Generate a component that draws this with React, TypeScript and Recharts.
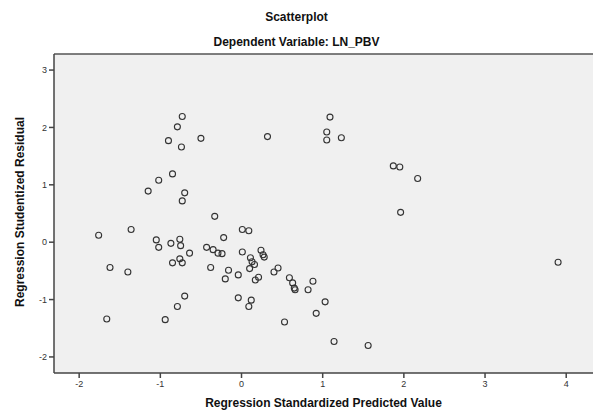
import React from "react";
import {
  ScatterChart, Scatter, XAxis, YAxis, ReferenceArea, ReferenceLine
} from "recharts";

// Regression Standardized Predicted Value
const predicted = [
  -0.73, -0.79, -0.90, -0.74, -0.50, 0.32, -0.85, -1.02, -1.15, -0.70,
  -0.73, -0.33, 1.09, 1.05, 1.05, 1.23, 1.87, 1.95, 2.17, 1.96,
  -1.76, -1.36, -1.62, -1.40, -1.66, -1.05, -1.02, -0.87, -0.76, -0.75,
  -0.64, -0.85, -0.76, -0.73, -0.70, -0.79, -0.94, -0.22, 0.01, 0.09,
  -0.43, -0.35, -0.29, -0.24, -0.38, -0.16, -0.20, -0.04, 0.01, 0.11,
  0.13, 0.16, 0.10, 0.17, 0.21, 0.24, 0.265, 0.28, 0.40, 0.45,
  -0.04, 0.12, 0.09, 0.53, 0.59, 0.63, 0.65, 0.66, 3.90, 0.88,
  0.82, 1.03, 0.92, 1.14, 1.56,
];

// Regression Studentized Residual
const residual = [
  2.19, 2.01, 1.77, 1.66, 1.81, 1.84, 1.19, 1.08, 0.89, 0.86,
  0.72, 0.45, 2.18, 1.92, 1.78, 1.82, 1.33, 1.31, 1.11, 0.52,
  0.12, 0.22, -0.44, -0.52, -1.34, 0.04, -0.09, -0.02, 0.05, -0.06,
  -0.19, -0.36, -0.29, -0.36, -0.94, -1.12, -1.35, 0.08, 0.22, 0.20,
  -0.09, -0.13, -0.19, -0.20, -0.44, -0.49, -0.64, -0.57, -0.17, -0.27,
  -0.34, -0.39, -0.46, -0.66, -0.61, -0.14, -0.22, -0.26, -0.52, -0.45,
  -0.97, -1.01, -1.12, -1.39, -0.62, -0.71, -0.80, -0.83, -0.35, -0.68,
  -0.83, -1.04, -1.24, -1.73, -1.80,
];

const xTicks = [-2, -1, 0, 1, 2, 3, 4];
const yTicks = [-2, -1, 0, 1, 2, 3];

const points = predicted.map((x, i) => ({ x, y: residual[i] }));

const FONT = '"Liberation Sans", Arial, sans-serif';
const X_DOMAIN: [number, number] = [-2.31, 4.33];
const Y_DOMAIN: [number, number] = [-2.28, 3.28];

const ring = (props: any) => (
  <circle cx={props.cx} cy={props.cy} r={3} fill="none" stroke="#333" strokeWidth={1.1} />
);

const title: React.CSSProperties = {
  position: "absolute", left: 0, width: 593, textAlign: "center",
  fontFamily: FONT, fontWeight: "bold", fontSize: 12, color: "#111",
};

export default function App() {
  return (
    <div style={{ position: "relative", width: 593, height: 412, background: "#fff" }}>
      <style>{"body{margin:0}"}</style>
      <ScatterChart
        width={593}
        height={412}
        margin={{ top: 54, right: 0, bottom: 0, left: 0 }}
      >
        <ReferenceArea
          x1={X_DOMAIN[0]} x2={X_DOMAIN[1]} y1={Y_DOMAIN[0]} y2={Y_DOMAIN[1]}
          fill="#f0f0f0" fillOpacity={1} stroke="none" ifOverflow="visible"
        />
        <ReferenceLine y={Y_DOMAIN[1]} stroke="#555" strokeWidth={1.5} />
        <XAxis
          type="number"
          dataKey="x"
          domain={X_DOMAIN}
          ticks={xTicks}
          allowDataOverflow
          height={39}
          tickSize={5}
          tickMargin={3}
          stroke="#444"
          strokeWidth={1.5}
          tick={{ fontSize: 9, fill: "#333", fontFamily: FONT }}
        />
        <YAxis
          type="number"
          dataKey="y"
          domain={Y_DOMAIN}
          ticks={yTicks}
          allowDataOverflow
          width={54}
          tickSize={5}
          tickMargin={2}
          stroke="#444"
          strokeWidth={1.5}
          tick={{ fontSize: 9, fill: "#333", fontFamily: FONT }}
        />
        <Scatter data={points} shape={ring} isAnimationActive={false} />
      </ScatterChart>
      <div style={{ ...title, top: 10 }}>Scatterplot</div>
      <div style={{ ...title, top: 35 }}>Dependent Variable: LN_PBV</div>
      <div style={{ ...title, left: 54, width: 539, top: 396 }}>
        Regression Standardized Predicted Value
      </div>
      <div
        style={{
          ...title, width: 300, left: 20 - 150, top: 213 - 8,
          transform: "rotate(-90deg)",
        }}
      >
        Regression Studentized Residual
      </div>
    </div>
  );
}
